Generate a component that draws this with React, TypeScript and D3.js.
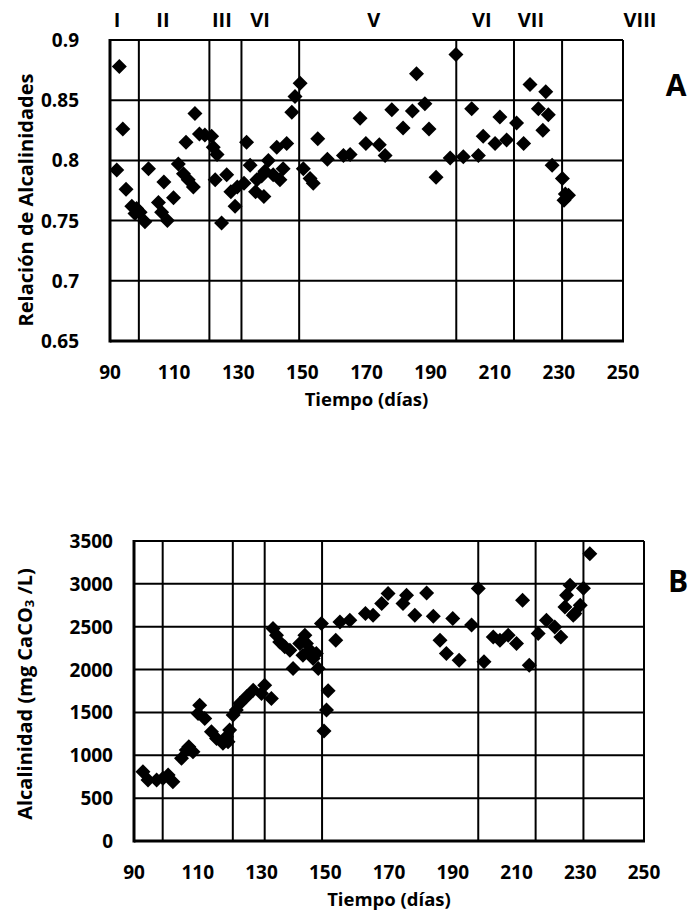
import React from 'react'
import * as d3 from 'd3'

// Panel A: relación de alcalinidades vs tiempo
const daysA = [92.1, 92.9, 94, 95, 96.8, 97.8, 98.3, 99.4, 100.9, 102, 105.1, 106.1, 106.8, 107.9, 109.8, 111.3, 112.9, 113.7, 114.4, 116, 116.5, 117.9, 119.6, 121.7, 122.2, 122.8, 123.4, 124.8, 126.4, 127.7, 129, 129.7, 131.8, 132.6, 133.7, 135.4, 135.8, 137.3, 138, 138.3, 139.4, 140.9, 142, 143, 144, 145.1, 146.7, 147.7, 149.3, 150.3, 152.4, 153.4, 154.8, 157.8, 162.8, 164.9, 168, 169.8, 174, 175.8, 177.9, 181.4, 184.3, 185.6, 188.2, 189.5, 191.7, 196.1, 197.9, 200.2, 202.8, 204.9, 206.4, 210.1, 211.6, 213.7, 216.8, 219, 221, 223.6, 225, 225.9, 226.7, 227.9, 231.1, 231.6, 232, 233]
const ratioA = [0.792, 0.878, 0.826, 0.776, 0.762, 0.756, 0.76, 0.757, 0.749, 0.793, 0.765, 0.757, 0.782, 0.75, 0.769, 0.797, 0.789, 0.815, 0.784, 0.778, 0.839, 0.822, 0.821, 0.82, 0.811, 0.784, 0.805, 0.748, 0.788, 0.774, 0.762, 0.778, 0.781, 0.815, 0.796, 0.774, 0.784, 0.787, 0.77, 0.791, 0.8, 0.788, 0.811, 0.784, 0.793, 0.814, 0.84, 0.853, 0.864, 0.793, 0.785, 0.781, 0.818, 0.801, 0.804, 0.805, 0.835, 0.814, 0.813, 0.804, 0.842, 0.827, 0.841, 0.872, 0.847, 0.826, 0.786, 0.802, 0.888, 0.803, 0.843, 0.804, 0.82, 0.814, 0.836, 0.817, 0.831, 0.814, 0.863, 0.843, 0.825, 0.857, 0.838, 0.796, 0.785, 0.767, 0.772, 0.771]

// Panel B: alcalinidad (mg CaCO3/L) vs tiempo
const daysB = [92.8, 94.4, 97.1, 99.1, 100.7, 102.2, 104.9, 106.4, 107.2, 108.5, 110.1, 110.6, 112.2, 114.3, 115.9, 117.9, 119, 119.5, 120, 121.1, 122.1, 123.2, 125.3, 127.4, 130, 131, 133.1, 133.6, 134.7, 135.7, 137.3, 138.9, 139.9, 142, 143, 143.6, 144.1, 145.2, 146.2, 147.2, 147.8, 148.8, 149.6, 150.4, 150.9, 153.3, 154.6, 157.7, 162.6, 165, 167.7, 169.7, 174.4, 175.5, 178.1, 181.8, 183.9, 186, 188, 190, 192, 195.9, 198, 199.8, 202.7, 204.8, 207.4, 210, 211.9, 214, 216.8, 219.4, 222, 223.9, 225.2, 225.7, 226.8, 227.8, 228.3, 230, 231, 233]
const alkB = [808, 711, 711, 731, 769, 691, 964, 1061, 1099, 1041, 1488, 1585, 1430, 1274, 1197, 1139, 1216, 1157, 1294, 1469, 1527, 1605, 1682, 1760, 1721, 1818, 1663, 2479, 2401, 2323, 2265, 2226, 2013, 2304, 2168, 2401, 2304, 2226, 2129, 2188, 2013, 2537, 1282, 1527, 1752, 2343, 2556, 2576, 2654, 2634, 2770, 2887, 2770, 2867, 2634, 2894, 2622, 2343, 2188, 2596, 2110, 2520, 2945, 2090, 2381, 2343, 2401, 2304, 2809, 2051, 2421, 2576, 2498, 2381, 2731, 2867, 2984, 2634, 2654, 2750, 2950, 3350]

// límites de fases (días) y etiquetas de fase
const phaseBounds = [99, 121, 131, 149, 198, 216, 231]
const phaseNames = ['I', 'II', 'III', 'VI', 'V', 'VI', 'VII', 'VIII']
const phaseLabelDays = [92.2, 106.5, 124.9, 136.8, 172.3, 206, 221.3, 255.3]

const xTicks = [90, 110, 130, 150, 170, 190, 210, 230, 250]
const yTicksA = [0.65, 0.7, 0.75, 0.8, 0.85, 0.9]
const yTicksB = [0, 500, 1000, 1500, 2000, 2500, 3000, 3500]

const FONT = '"Open Sans", "DejaVu Sans", sans-serif'

const diamond = 'M0,-7.5L7.5,0L0,7.5L-7.5,0Z'

function Panel({ left, right, top, bottom, xs, ys, yDomain, yTicks, labelX, letter, letterPos, yTitle, titleX, titleY, showPhases }) {
  const x = d3.scaleLinear().domain([90, 250]).range([left, right])
  const y = d3.scaleLinear().domain(yDomain).range([bottom, top])
  return (
    <g>
      {yTicks.map((t) => (
        <line key={'h' + t} x1={left} x2={right} y1={y(t)} y2={y(t)} stroke="#000" strokeWidth={2} />
      ))}
      {phaseBounds.map((b) => (
        <line key={'v' + b} x1={x(b)} x2={x(b)} y1={top} y2={bottom} stroke="#000" strokeWidth={2} />
      ))}
      <line x1={right} x2={right} y1={top} y2={bottom} stroke="#000" strokeWidth={2} />
      <line x1={left} x2={left} y1={top - 1} y2={bottom + 1.5} stroke="#000" strokeWidth={3} />
      <line x1={left} x2={right + 1} y1={bottom} y2={bottom} stroke="#000" strokeWidth={3} />
      {xs.map((d, i) => (
        <path key={i} d={diamond} transform={`translate(${x(d)},${y(ys[i])})`} fill="#000" />
      ))}
      {xTicks.map((t) => (
        <text key={'xt' + t} x={x(t)} y={bottom + 31} textAnchor="middle" dominantBaseline="central"
          fontFamily={FONT} fontWeight="bold" fontSize={19}>{t}</text>
      ))}
      {yTicks.map((t) => (
        <text key={'yt' + t} x={labelX} y={y(t)} textAnchor="end" dominantBaseline="central"
          fontFamily={FONT} fontWeight="bold" fontSize={19}>{String(t)}</text>
      ))}
      <text x={(left + right) / 2} y={bottom + 57} textAnchor="middle" dominantBaseline="central"
        fontFamily={FONT} fontWeight="bold" fontSize={18.5}>Tiempo (días)</text>
      <text transform={`translate(${titleX},${titleY}) rotate(-90)`} textAnchor="middle"
        dominantBaseline="central" fontFamily={FONT} fontWeight="bold" fontSize={20}>{yTitle}</text>
      {showPhases && phaseNames.map((n, i) => (
        <text key={'p' + i} x={x(phaseLabelDays[i])} y={19} textAnchor="middle" dominantBaseline="central"
          fontFamily={FONT} fontWeight="bold" fontSize={20}>{n}</text>
      ))}
      <text x={letterPos[0]} y={letterPos[1]} textAnchor="middle" dominantBaseline="central"
        fontFamily={FONT} fontWeight="bold" fontSize={30}>{letter}</text>
    </g>
  )
}

export default function App() {
  return (
    <svg width={691} height={922} style={{ position: 'absolute', left: 0, top: 0, background: '#fff' }}>
      <rect width={691} height={922} fill="#fff" />
      <Panel left={110} right={623} top={40} bottom={341} xs={daysA} ys={ratioA} yDomain={[0.65, 0.9]}
        yTicks={yTicksA} labelX={79} letter="A" letterPos={[676, 84]} titleX={25} titleY={200}
        yTitle="Relación de Alcalinidades" showPhases={true} />
      <Panel left={134} right={644} top={541} bottom={841} xs={daysB} ys={alkB} yDomain={[0, 3500]}
        yTicks={yTicksB} labelX={113} letter="B" letterPos={[678, 580]} titleX={24} titleY={694}
        yTitle={<>Alcalinidad (mg CaCO<tspan dy={5} fontSize={13}>3</tspan><tspan dy={-5}> /L)</tspan></>}
        showPhases={false} />
    </svg>
  )
}
